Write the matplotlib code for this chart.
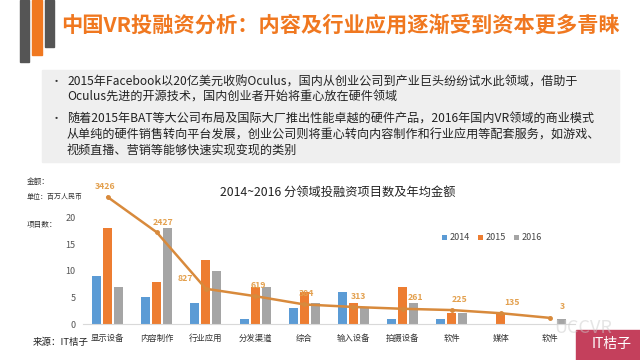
import numpy as np
import matplotlib
matplotlib.use('Agg')
import matplotlib.pyplot as plt
from matplotlib.patches import Rectangle

plt.rcParams['font.family'] = ['Noto Sans CJK SC', 'DejaVu Sans']

# data
categories = ['显示设备', '内容制作', '行业应用', '分发渠道', '综合',
              '输入设备', '拍摄设备', '软件', '媒体', '软件']
years = ['2014', '2015', '2016']
n2014 = [9, 5, 4, 1, 3, 6, 1, 1, 0, 0]
n2015 = [18, 8, 12, 7, 6, 4, 7, 2, 2, 0]
n2016 = [7, 18, 10, 7, 4, 3, 4, 2, 0, 1]
amount = [3426, 2427, 827, 619, 384, 313, 261, 225, 135, 3]
amount_labels = ['3426', '2427', '827', '619', '384', '313', '261', '225', '135', '3']

title = '中国VR投融资分析：内容及行业应用逐渐受到资本更多青睐'
bullets = [
    '2015年Facebook以20亿美元收购Oculus，国内从创业公司到产业巨头纷纷试水此领域，借助于\nOculus先进的开源技术，国内创业者开始将重心放在硬件领域',
    '随着2015年BAT等大公司布局及国际大厂推出性能卓越的硬件产品，2016年国内VR领域的商业模式\n从单纯的硬件销售转向平台发展，创业公司则将重心转向内容制作和行业应用等配套服务，如游戏、\n视频直播、营销等能够快速实现变现的类别',
]

c_blue = '#5B9BD5'
c_orange = '#ED7D31'
c_gray = '#A5A5A5'
c_line = '#D88A3C'
c_lab = '#E3A04E'

fig = plt.figure(figsize=(6.4, 3.6), dpi=100)

# helper: rectangle in pixel coords from top-left
def px_rect(x0, y0, x1, y1, color, **kw):
    fig.patches.append(Rectangle((x0 / 640, 1 - y1 / 360), (x1 - x0) / 640, (y1 - y0) / 360,
                                 transform=fig.transFigure, color=color, zorder=0, **kw))

def px_text(x, y, s, **kw):
    return fig.text(x / 640, 1 - y / 360, s, **kw)

px_rect(20, 0, 29, 62, '#555555')
px_rect(32, 0, 42, 55, '#F07820')
px_rect(45, 0, 54, 47, '#555555')

px_text(61, 25, title, color='#F07820', fontsize=15.3, fontweight='bold', va='center', ha='left')

# gray text box
px_rect(42, 70, 619, 162, '#EFEFEF')
line_y = [[82, 97], [119, 135, 150]]
for b, ys in zip(bullets, line_y):
    px_text(51, ys[0], '•', fontsize=8, color='#333333', va='center')
    for ln, yy in zip(b.split('\n'), ys):
        px_text(67, yy, ln, fontsize=8.7, color='#222222', va='center')

# chart
ax = fig.add_axes([83 / 640, 36 / 360, 491.6 / 640, 130 / 360])
x = np.arange(len(categories))
w = 0.183
ax.bar(x - 0.224, n2014, w, color=c_blue, label=years[0], zorder=2)
ax.bar(x, n2015, w, color=c_orange, label=years[1], zorder=2)
ax.bar(x + 0.224, n2016, w, color=c_gray, label=years[2], zorder=2)
ax.set_xlim(-0.5, len(categories) - 0.5)
ax.set_ylim(0, 24.5)
ax.set_yticks([0, 5, 10, 15, 20])
ax.tick_params(axis='y', length=0, labelsize=6.5, labelcolor='#555555', pad=5.5)
ax.set_xticks(x)
ax.set_xticklabels(categories, fontsize=6, color='#333333')
ax.tick_params(axis='x', length=0, pad=7)
for s in ['top', 'right', 'left']:
    ax.spines[s].set_visible(False)
ax.spines['bottom'].set_color('#D9D9D9')
ax.patch.set_alpha(0)

ax2 = ax.twinx()
ax2.set_ylim(-170, 3511)
ax2.plot(x, amount, color=c_line, lw=1.8, marker='o', ms=2.5, zorder=3)
ax2.axis('off')
offs = [(-2, 11), (6, 10), (-21, 10), (3, 11), (2, 11), (5, 10), (13, 11), (8, 11), (11, 11), (12, 11)]
for xi, v, lab, o in zip(x, amount, amount_labels, offs):
    ax2.annotate(lab, (xi, v), xytext=o, textcoords='offset pixels', ha='center', va='center',
                 fontsize=6.3, fontweight='bold', color=c_lab, zorder=4)

px_text(338, 192, '2014~2016 分领域投融资项目数及年均金额', fontsize=8.8,
        color='#222222', ha='center', va='center')
leg = ax.legend(loc='center', bbox_to_anchor=(492 / 640, 1 - 238 / 360), bbox_transform=fig.transFigure,
                ncol=3, frameon=False, fontsize=6.5, handlelength=0.55, handleheight=0.55,
                handletextpad=0.3, columnspacing=0.9)
for t in leg.get_texts():
    t.set_color('#444444')

px_text(27, 182, '金额：', fontsize=5.5, color='#333333', va='center')
px_text(27, 197, '单位：百万人民币', fontsize=5, color='#333333', va='center')
px_text(27, 225, '项目数：', fontsize=5.5, color='#333333', va='center')
px_text(33, 342, '来源：IT桔子', fontsize=6.8, color='#222222', va='center')

# watermarks
px_text(583, 328, 'UCCVR', fontsize=13, color='#CCCCCC', alpha=0.5, ha='center', va='center')
px_rect(576, 330, 640, 360, '#C4405C')
px_text(612, 344, 'IT桔子', fontsize=10, color='white', ha='center', va='center')

fig.savefig('out.png', dpi=100)
